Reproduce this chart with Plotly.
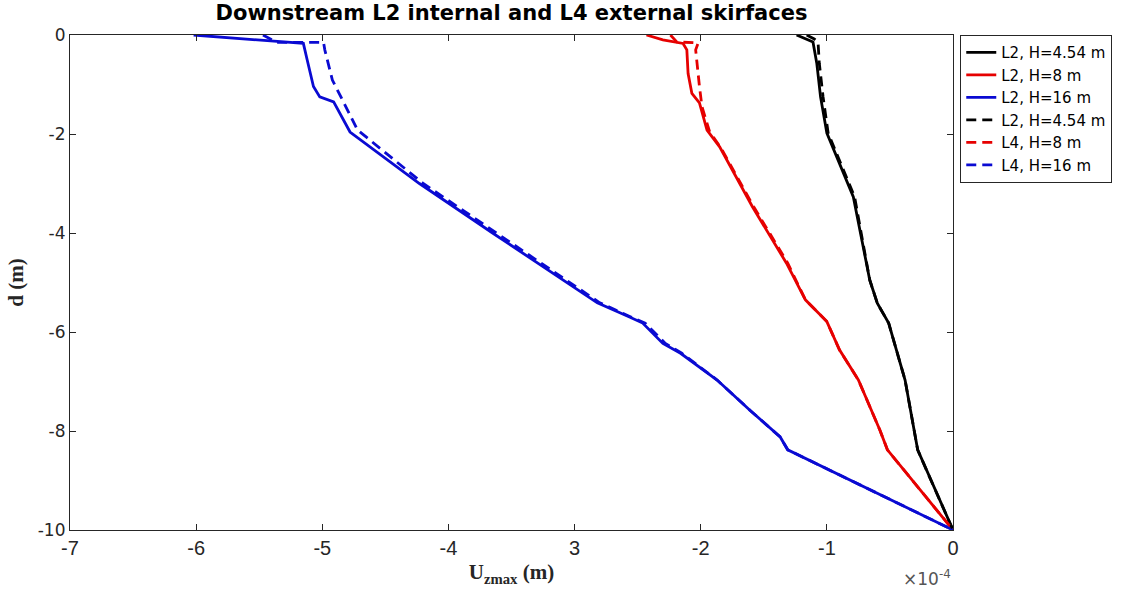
import plotly.graph_objects as go

# values in units of 1e-4 m (x) and m (depth)
x_l2_454 = [-1.24, -1.16, -1.11, -1.08, -1.05, -1.00, -0.79, -0.66, -0.60, -0.51, -0.38, -0.28, -0.21, 0.0]
y_l2_454 = [0.0, -0.08, -0.14, -0.57, -1.25, -1.98, -3.27, -4.95, -5.42, -5.82, -6.97, -8.38, -8.79, -10.0]

x_l2_8 = [-2.43, -2.30, -2.14, -2.11, -2.10, -2.07, -2.01, -1.95, -1.85, -1.59, -1.32, -1.17, -1.00, -0.90, -0.75, -0.58, -0.52, 0.0]
y_l2_8 = [0.0, -0.10, -0.17, -0.30, -0.78, -1.18, -1.37, -1.92, -2.26, -3.47, -4.61, -5.35, -5.79, -6.36, -6.97, -7.98, -8.38, -10.0]

x_l2_16 = [-6.02, -5.55, -5.15, -5.12, -5.07, -5.02, -4.91, -4.78, -4.23, -3.65, -2.82, -2.56, -2.46, -2.30, -2.16, -1.87, -1.61, -1.37, -1.31, 0.0]
y_l2_16 = [0.0, -0.10, -0.17, -0.50, -1.04, -1.25, -1.35, -1.96, -3.00, -4.00, -5.41, -5.70, -5.82, -6.23, -6.43, -6.97, -7.58, -8.12, -8.38, -10.0]

x_l4_454 = [-1.16, -1.10, -1.07, -1.06, -1.03, -0.99, -0.78, -0.66, -0.60, -0.51, -0.38, -0.28, -0.21, 0.0]
y_l4_454 = [0.0, -0.08, -0.14, -0.57, -1.25, -1.98, -3.27, -4.95, -5.42, -5.82, -6.97, -8.38, -8.79, -10.0]

x_l4_8 = [-2.24, -2.19, -2.02, -2.04, -2.01, -1.99, -1.93, -1.84, -1.58, -1.31, -1.17, -1.00, -0.90, -0.75, -0.58, -0.52, 0.0]
y_l4_8 = [0.0, -0.14, -0.16, -0.30, -1.04, -1.45, -1.95, -2.28, -3.47, -4.61, -5.35, -5.79, -6.36, -6.97, -7.98, -8.38, -10.0]

x_l4_16 = [-5.47, -5.36, -4.99, -4.98, -4.92, -4.83, -4.72, -4.20, -3.62, -2.80, -2.55, -2.44, -2.28, -2.15, -1.87, -1.61, -1.37, -1.31, 0.0]
y_l4_16 = [0.0, -0.15, -0.15, -0.30, -0.91, -1.35, -1.92, -3.00, -4.00, -5.41, -5.70, -5.82, -6.23, -6.43, -6.97, -7.58, -8.12, -8.38, -10.0]

x_tickvals = [-7, -6, -5, -4, -3, -2, -1, 0]
x_ticktext = ["-7", "-6", "-5", "-4", "3", "-2", "-1", "0"]
y_tickvals = [-10, -8, -6, -4, -2, 0]
y_ticktext = ["-10", "-8", "-6", "-4", "-2", "0"]

BLACK = "#000000"
RED = "#e60000"
BLUE = "#0a0ad2"
DASH = "10px,6px"
LW = 2.8

series = [
    ("L2, H=4.54 m", x_l2_454, y_l2_454, BLACK, "solid"),
    ("L2, H=8 m", x_l2_8, y_l2_8, RED, "solid"),
    ("L2, H=16 m", x_l2_16, y_l2_16, BLUE, "solid"),
    ("L2, H=4.54 m", x_l4_454, y_l4_454, BLACK, DASH),
    ("L4, H=8 m", x_l4_8, y_l4_8, RED, DASH),
    ("L4, H=16 m", x_l4_16, y_l4_16, BLUE, DASH),
]

fig = go.Figure()
for name, xs, ys, col, dash in series:
    fig.add_trace(go.Scatter(x=xs, y=ys, mode="lines", name=name,
                             line=dict(color=col, width=LW, dash=dash)))

axis_common = dict(showline=True, linecolor="#262626", linewidth=1.2, mirror="ticks",
                   ticks="inside", ticklen=6, tickwidth=1, tickcolor="#262626",
                   showgrid=False, zeroline=False)

fig.update_layout(
    width=1121, height=592,
    margin=dict(l=70, r=168, t=35, b=62, autoexpand=False),
    paper_bgcolor="white", plot_bgcolor="white",
    title=dict(text="<b>Downstream L2 internal and L4 external skirfaces</b>",
               x=0.5, xref="paper", xanchor="center",
               y=1 - 13 / 592, yref="container", yanchor="middle",
               font=dict(family="DejaVu Sans", size=21, color="#000000")),
    xaxis=dict(range=[-7, 0], tickvals=x_tickvals, ticktext=x_ticktext,
               tickfont=dict(family="Liberation Sans Narrow, Arial Narrow, sans-serif", size=20, color="#262626"),
               title=dict(text="<b>U<sub>zmax</sub> (m)</b>", standoff=6,
                          font=dict(family="Liberation Serif, Times New Roman, serif", size=21, color="#262626")),
               **axis_common),
    yaxis=dict(range=[-10, 0], tickvals=y_tickvals, ticktext=y_ticktext,
               tickfont=dict(family="DejaVu Sans", size=17, color="#262626"),
               title=dict(text="<b>d (m)</b>", standoff=8,
                          font=dict(family="Liberation Serif, Times New Roman, serif", size=21, color="#262626")),
               **axis_common),
    legend=dict(x=1.008, xanchor="left", y=1.0, yanchor="top",
                bordercolor="#262626", borderwidth=1.2, bgcolor="white",
                font=dict(family="DejaVu Sans", size=15, color="#000000"),
                itemwidth=30, tracegroupgap=0),
    showlegend=True,
    annotations=[dict(text="×10<sup>-4</sup>", x=1.0, xref="paper", xanchor="right",
                      y=-0.097, yref="paper", yanchor="middle", showarrow=False,
                      font=dict(family="DejaVu Sans", size=17, color="#555555"))],
)

fig.write_html("out.html")
